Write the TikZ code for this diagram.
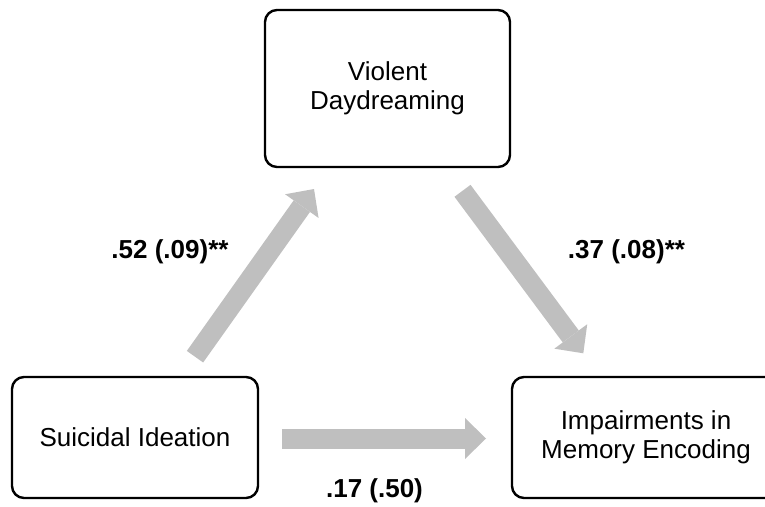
\documentclass[tikz,border=0pt]{standalone}
\usepackage{fontspec}
\setmainfont{Liberation Sans}
\usetikzlibrary{arrows.meta}
\definecolor{arrowgray}{HTML}{BFBFBF}
\tikzset{
  box/.style={draw=black, line width=2.4pt, rounded corners=12pt, inner sep=0pt,
    align=center, font=\fontsize{26}{29.5}\selectfont},
  bigarrow/.style={draw=arrowgray, line width=20pt,
    -{Triangle[length=21pt,width=41pt,line width=0pt,fill=arrowgray]}},
  lbl/.style={font=\fontsize{26}{30}\selectfont\bfseries, inner sep=0pt}
}
\begin{document}
\begin{tikzpicture}[x=1pt,y=-1pt]
\useasboundingbox (0,0) rectangle (765,506);
\node[box, minimum width=245pt, minimum height=157pt] (vd) at (387.5,88.5) {Violent\\Daydreaming};
\node[box, minimum width=246pt, minimum height=121pt] (si) at (135,437.5) {Suicidal Ideation};
\node[box, minimum width=268pt, minimum height=121pt] (me) at (646,437.5) {Impairments in\\Memory Encoding};
\coordinate (a1s) at (195,356.7);
\coordinate (a1e) at (314,189);
\coordinate (a2s) at (462.5,190.8);
\coordinate (a2e) at (583.3,353.3);
\coordinate (a3s) at (282,438.5);
\coordinate (a3e) at (486,438.5);
\draw[bigarrow] (a1s) -- (a1e);
\draw[bigarrow] (a2s) -- (a2e);
\draw[bigarrow] (a3s) -- (a3e);
\node[lbl] (l1) at (170,251.5) {.52 (.09)**};
\node[lbl] (l2) at (626.5,252) {.37 (.08)**};
\node[lbl] (l3) at (374.5,491) {.17 (.50)};
\end{tikzpicture}
\end{document}
